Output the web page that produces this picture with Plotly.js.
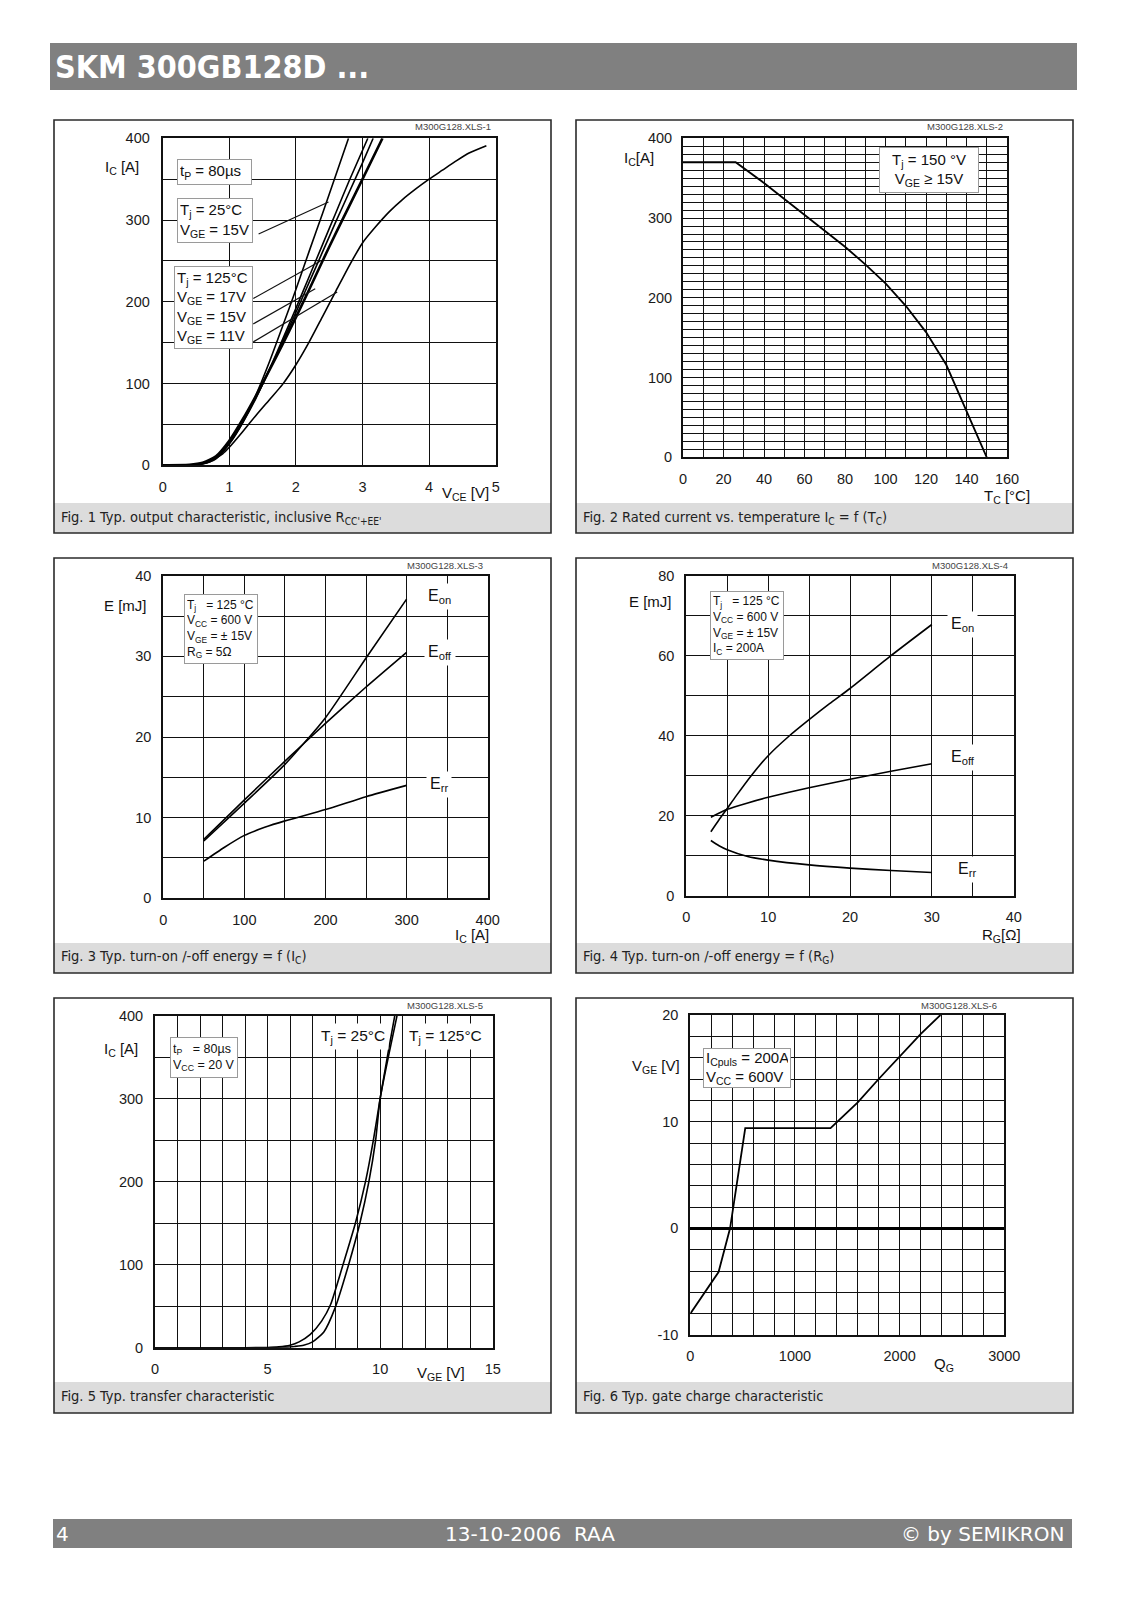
<!DOCTYPE html>
<html><head><meta charset="utf-8">
<script src="https://cdn.plot.ly/plotly-3.0.1.min.js"></script>
<style>html,body{margin:0;padding:0;background:#fff}#chart{width:1131px;height:1600px}</style>
</head><body><div id="chart"></div>
<script>
// ---------- DATA ----------
// Fig 1: output characteristic (V_CE [V] vs I_C [A])
const f1_vceA = [0, 0.4, 0.6, 0.8, 1.0, 1.2, 1.4, 1.6, 1.8, 2.0, 2.2, 2.4, 2.6, 2.79];
const f1_icA  = [0, 0.3, 2, 8, 26, 52, 86, 126, 170, 215, 262, 308, 355, 400];
const f1_vceB = [0, 0.4, 0.6, 0.8, 1.0, 1.2, 1.4, 1.6, 1.8, 2.0, 2.2, 2.4, 2.6, 2.8, 3.08];
const f1_icB  = [0, 0.3, 2, 9, 27, 52, 82, 117, 154, 192, 231, 270, 309, 348, 400];
const f1_vceC = [0, 0.4, 0.6, 0.8, 1.0, 1.2, 1.4, 1.6, 1.8, 2.0, 2.2, 2.4, 2.6, 2.8, 3.0, 3.16];
const f1_icC  = [0, 0.4, 2.5, 10, 28, 53, 83, 116, 151, 187, 224, 261, 298, 334, 370, 400];
const f1_vceD = [0, 0.4, 0.6, 0.8, 1.0, 1.2, 1.4, 1.6, 1.8, 2.0, 2.2, 2.4, 2.6, 2.8, 3.0, 3.3];
const f1_icD  = [0, 0.5, 3, 11, 30, 56, 85, 116, 148, 181, 215, 250, 284, 317, 350, 400];
const f1_vceE = [0, 0.5, 0.7, 0.9, 1.0, 1.2, 1.4, 1.6, 1.8, 2.0, 2.2, 2.4, 2.6, 2.8, 3.0, 3.2, 3.4, 3.6, 3.8, 4.0, 4.2, 4.4, 4.6, 4.86];
const f1_icE  = [0, 0.5, 4, 14, 22, 41, 61, 80, 99, 123, 151, 182, 213, 244, 272, 292, 310, 325, 338, 350, 361, 372, 382, 391];
// label leader lines (data coords)
const f1_leaderX0 = [1.44, 1.36, 1.36, 1.36];
const f1_leaderY0 = [283, 204, 173, 151];
const f1_leaderX1 = [2.49, 2.37, 2.29, 2.62];
const f1_leaderY1 = [322, 250, 216, 212];

// Fig 2: rated current vs case temperature
const f2_tc = [0, 26, 40, 50, 60, 70, 80, 90, 100, 110, 120, 130, 140, 150];
const f2_ic = [370, 370, 344, 324, 305, 285, 264, 242, 218, 190, 157, 116, 58, 0];

// Fig 3: switching energy vs I_C
const f3_ic   = [50, 100, 150, 200, 250, 300];
const f3_eon  = [7.1, 11.8, 16.6, 22.4, 29.8, 37.1];
const f3_eoff = [7.3, 12.2, 17.0, 21.7, 26.2, 30.5];
const f3_icRr = [50, 75, 100, 125, 150, 200, 250, 300];
const f3_err  = [4.6, 6.3, 7.8, 8.8, 9.6, 11.0, 12.6, 14.0];

// Fig 4: switching energy vs R_G
const f4_rgOn  = [3, 4, 5, 6, 8, 10, 12.5, 15, 17.5, 20, 25, 30];
const f4_eon   = [16, 19, 21.8, 24.7, 30.2, 35, 39.8, 44, 48, 51.8, 60, 67.8];
const f4_rgOff = [3, 5, 7.5, 10, 15, 20, 25, 30];
const f4_eoff  = [19.6, 21.6, 23.2, 24.6, 27, 29.1, 31.1, 33];
const f4_rgRr  = [3, 4, 5, 7.5, 10, 15, 20, 25, 30];
const f4_err   = [13.8, 12.5, 11.5, 9.8, 8.9, 7.7, 6.9, 6.3, 5.8];

// Fig 5: transfer characteristic
const f5_vge125 = [0, 4, 5, 5.5, 6.0, 6.4, 6.9, 7.4, 7.8, 8.35, 8.9, 9.35, 9.7, 10.0, 10.35, 10.65];
const f5_ic125  = [0, 0, 0.3, 1, 3, 7, 16, 32, 52, 100, 150, 200, 250, 300, 355, 400];
const f5_vge25  = [0, 5, 5.8, 6.2, 6.6, 7.0, 7.5, 8.0, 8.6, 9.1, 9.5, 9.8, 10.0, 10.4, 10.75];
const f5_ic25   = [0, 0, 0.5, 1.5, 3, 7, 19, 48, 100, 150, 200, 250, 300, 355, 400];

// Fig 6: gate charge
const f6_qg  = [0, 270, 380, 490, 525, 1340, 1600, 1800, 2000, 2200, 2390];
const f6_vge = [-8, -4.1, 0, 7, 9.4, 9.4, 11.8, 14, 16.1, 18.2, 20];

// tick labels
const f1_xLabels = [0, 1, 2, 3, 4, 5];
const f1_yLabels = [0, 100, 200, 300, 400];
const f2_xLabels = [0, 20, 40, 60, 80, 100, 120, 140, 160];
const f2_yLabels = [0, 100, 200, 300, 400];
const f3_xLabels = [0, 100, 200, 300, 400];
const f3_yLabels = [0, 10, 20, 30, 40];
const f4_xLabels = [0, 10, 20, 30, 40];
const f4_yLabels = [0, 20, 40, 60, 80];
const f5_xLabels = [0, 5, 10, 15];
const f5_yLabels = [0, 100, 200, 300, 400];
const f6_xLabels = [0, 1000, 2000, 3000];
const f6_yLabels = [-10, 0, 10, 20];

// ---------- LAYOUT HELPERS ----------
const W = 1131, H = 1600;
const px = x => x / W;
const py = y => 1 - y / H;
const TICKFONT = {family: 'Liberation Sans, Arial, sans-serif', size: 14.5, color: '#1a1a1a'};
const LBLFONT  = {family: 'Liberation Sans, Arial, sans-serif', size: 15, color: '#111'};
const CAPFONT  = {family: 'DejaVu Sans Condensed, DejaVu Sans, sans-serif', size: 14.5, color: '#222'};
const GRID = '#111';

function axis(dom, range, gridStep, labels, anchor, standoff, extra) {
  const minorVals = [];
  const n = Math.round((range[1] - range[0]) / gridStep);
  for (let k = 0; k <= n; k++) {
    const v = Math.round((range[0] + k * gridStep) * 1e6) / 1e6;
    if (labels.indexOf(v) < 0) minorVals.push(v);
  }
  return Object.assign({
    domain: dom, range: range, anchor: anchor,
    tickmode: 'array', tickvals: labels, ticktext: labels.map(String),
    showgrid: true, gridcolor: GRID, gridwidth: 1,
    minor: {tickmode: 'array', tickvals: minorVals, showgrid: true, gridcolor: GRID, gridwidth: 1, ticks: ''},
    showline: true, mirror: true, linecolor: '#111', linewidth: 2,
    zeroline: false, ticks: '', ticklabelstandoff: standoff,
    tickfont: TICKFONT, fixedrange: true
  }, extra || {});
}

const layout = {
  width: W, height: H, margin: {l: 0, r: 0, t: 0, b: 0},
  paper_bgcolor: '#fff', plot_bgcolor: '#fff', showlegend: false,
  xaxis:  axis([px(162.7), px(495.7)], [0, 5], 1, f1_xLabels, 'y', 7),
  yaxis:  axis([py(465.3), py(138.3)], [0, 400], 50, f1_yLabels, 'x', 8),
  xaxis2: axis([px(683), px(1007)], [0, 160], 10, f2_xLabels, 'y2', 7),
  yaxis2: axis([py(457.3), py(138.3)], [0, 400], 10, f2_yLabels, 'x2', 6),
  xaxis3: axis([px(163.3), px(487.7)], [0, 400], 50, f3_xLabels, 'y3', 7),
  yaxis3: axis([py(898.3), py(575.7)], [0, 40], 5, f3_yLabels, 'x3', 7),
  xaxis4: axis([px(686.3), px(1013.7)], [0, 40], 5, f4_xLabels, 'y4', 7),
  yaxis4: axis([py(895.7), py(575.7)], [0, 80], 10, f4_yLabels, 'x4', 7),
  xaxis5: axis([px(155), px(492.7)], [0, 15], 1, f5_xLabels, 'y5', 7),
  yaxis5: axis([py(1347.7), py(1015.7)], [0, 400], 50, f5_yLabels, 'x5', 7),
  xaxis6: axis([px(690.3), px(1004.3)], [0, 3000], 200, f6_xLabels, 'y6', 7),
  yaxis6: axis([py(1335), py(1015)], [-10, 20], 2, f6_yLabels, 'x6', 7,
               {zeroline: true, zerolinecolor: '#000', zerolinewidth: 3.5}),
  shapes: [], annotations: []
};

// page furniture
const S = layout.shapes, A = layout.annotations;
function rectPx(x0, y0, x1, y1, fill, line, lw) {
  S.push({type: 'rect', xref: 'paper', yref: 'paper', x0: px(x0), x1: px(x1), y0: py(y1), y1: py(y0),
          fillcolor: fill, line: {color: line || fill, width: lw == null ? 0 : lw}, layer: 'below'});
}
function txt(text, x, y, font, xanchor, extra) {
  A.push(Object.assign({text: text, xref: 'paper', yref: 'paper', x: px(x), y: py(y),
    xanchor: xanchor || 'left', yanchor: 'middle', showarrow: false, font: font}, extra || {}));
}
function box(text, x0, y0, x1, y1, size, align) {
  A.push({text: text, xref: 'paper', yref: 'paper', x: px(x0), y: py(y0), xanchor: 'left', yanchor: 'top',
    width: x1 - x0 - 6, height: y1 - y0 - 6, align: align || 'left', valign: 'middle',
    showarrow: false, bgcolor: '#fff', bordercolor: '#9a9a9a', borderwidth: 1, borderpad: 2,
    font: {family: 'Liberation Sans, Arial, sans-serif', size: size, color: '#111'}});
}
function label(text, x, y, size, xanchor) {
  A.push({text: text, xref: 'paper', yref: 'paper', x: px(x), y: py(y), xanchor: xanchor || 'left', yanchor: 'middle',
    showarrow: false, bgcolor: '#fff', borderpad: 3,
    font: {family: 'Liberation Sans, Arial, sans-serif', size: size, color: '#111'}});
}

// header and footer bars
rectPx(50, 43, 1077, 90, '#808080');
txt('<b>SKM 300GB128D ...</b>', 53, 67, {family: 'DejaVu Sans Condensed, DejaVu Sans, sans-serif', size: 32, color: '#fff'});
rectPx(53, 1519, 1072, 1548, '#808080');
const FOOT = {family: 'DejaVu Sans, sans-serif', size: 20, color: '#fff'};
txt('4', 54, 1534, FOOT, 'left');
txt('13-10-2006\u00a0\u00a0RAA', 530, 1534, FOOT, 'center');
txt('© by SEMIKRON', 1066, 1534, FOOT, 'right');

// panel frames and caption bands
const panels = [
  [54, 120, 551, 533, 503], [576, 120, 1073, 533, 503],
  [54, 558, 551, 973, 943], [576, 558, 1073, 973, 943],
  [54, 998, 551, 1413, 1382], [576, 998, 1073, 1413, 1382]
];
panels.forEach(p => {
  rectPx(p[0], p[4], p[2], p[3], '#dcdcdc');
  rectPx(p[0], p[1], p[2], p[3], 'rgba(0,0,0,0)', '#2b2b2b', 1.6);
});
txt("Fig. 1 Typ. output characteristic, inclusive R<sub>CC'+EE'</sub>", 59, 518, CAPFONT);
txt('Fig. 2 Rated current vs. temperature I<sub>C</sub> = f (T<sub>C</sub>)', 581, 518, CAPFONT);
txt('Fig. 3 Typ. turn-on /-off energy = f (I<sub>C</sub>)', 59, 957, CAPFONT);
txt('Fig. 4 Typ. turn-on /-off energy = f (R<sub>G</sub>)', 581, 957, CAPFONT);
txt('Fig. 5 Typ. transfer characteristic', 59, 1396, CAPFONT);
txt('Fig. 6 Typ. gate charge characteristic', 581, 1396, CAPFONT);

const SMALL = {family: 'Liberation Sans, Arial, sans-serif', size: 9.5, color: '#444'};
txt('M300G128.XLS-1', 493, 127, SMALL, 'right');
txt('M300G128.XLS-2', 1005, 127, SMALL, 'right');
txt('M300G128.XLS-3', 485, 565, SMALL, 'right');
txt('M300G128.XLS-4', 1010, 565, SMALL, 'right');
txt('M300G128.XLS-5', 485, 1005, SMALL, 'right');
txt('M300G128.XLS-6', 999, 1005, SMALL, 'right');

// axis titles
txt('I<sub>C</sub> [A]', 103, 168, LBLFONT);
txt('V<sub>CE</sub> [V]', 440, 493, LBLFONT);
txt('I<sub>C</sub>[A]', 622, 158, LBLFONT);
txt('T<sub>C</sub> [°C]', 982, 496, LBLFONT);
txt('E [mJ]', 102, 605, LBLFONT);
txt('I<sub>C</sub> [A]', 453, 935, LBLFONT);
txt('E [mJ]', 627, 601, LBLFONT);
txt('R<sub>G</sub>[Ω]', 980, 935, LBLFONT);
txt('I<sub>C</sub> [A]', 102, 1049, LBLFONT);
txt('V<sub>GE</sub> [V]', 415, 1373, LBLFONT);
txt('V<sub>GE</sub> [V]', 630, 1066, LBLFONT);
txt('Q<sub>G</sub>', 932, 1364, LBLFONT);

// legend boxes
const NB = '\u00a0';
box('t<sub>P</sub> = 80µs', 177, 159, 252, 185, 15);
box('T<sub>j</sub> = 25°C<br>V<sub>GE</sub> = 15V', 177, 198, 253, 243, 15);
box('T<sub>j</sub> = 125°C<br>V<sub>GE</sub> = 17V<br>V<sub>GE</sub> = 15V<br>V<sub>GE</sub> = 11V', 174, 266, 253, 349, 15);
box('T<sub>j</sub> = 150 °V<br>V<sub>GE</sub> ≥ 15V', 879, 147, 979, 193, 15, 'center');
box('T<sub>j</sub>' + NB+NB+NB + '= 125 °C<br>V<sub>CC</sub> = 600 V<br>V<sub>GE</sub> = ± 15V<br>R<sub>G</sub> = 5Ω', 184, 594, 258, 664, 12);
box('T<sub>j</sub>' + NB+NB+NB + '= 125 °C<br>V<sub>CC</sub> = 600 V<br>V<sub>GE</sub> = ± 15V<br>I<sub>C</sub> = 200A', 710, 591, 784, 660, 12);
box('t<sub>P</sub>' + NB+NB+NB + '= 80µs<br>V<sub>CC</sub> = 20 V', 170, 1037, 238, 1078, 12.5);
box('I<sub>Cpuls</sub> = 200A<br>V<sub>CC</sub> = 600V', 703, 1048, 791, 1088, 15);

// curve labels
label('E<sub>on</sub>', 424, 596, 16);
label('E<sub>off</sub>', 424, 652, 16);
label('E<sub>rr</sub>', 426, 784, 16);
label('E<sub>on</sub>', 947, 624, 16);
label('E<sub>off</sub>', 947, 757, 16);
label('E<sub>rr</sub>', 954, 869, 16);
label('T<sub>j</sub> = 25°C', 317, 1036, 15.5);
label('T<sub>j</sub> = 125°C', 405, 1036, 15.5);

// leader lines in Fig. 1
for (let i = 0; i < f1_leaderX0.length; i++) {
  S.push({type: 'line', xref: 'x', yref: 'y', x0: f1_leaderX0[i], y0: f1_leaderY0[i],
          x1: f1_leaderX1[i], y1: f1_leaderY1[i], line: {color: '#111', width: 1.2}, layer: 'above'});
}

// ---------- TRACES ----------
function line(x, y, xa, ya, w, shape) {
  return {x: x, y: y, xaxis: xa, yaxis: ya, type: 'scatter', mode: 'lines', hoverinfo: 'skip',
          line: {color: '#000', width: w || 1.6, shape: shape || 'spline', smoothing: 0.6}};
}
const data = [
  line(f1_vceA, f1_icA, 'x', 'y'),
  line(f1_vceB, f1_icB, 'x', 'y'),
  line(f1_vceC, f1_icC, 'x', 'y'),
  line(f1_vceD, f1_icD, 'x', 'y', 2.6),
  line(f1_vceE, f1_icE, 'x', 'y'),
  line(f2_tc, f2_ic, 'x2', 'y2', 1.8, 'linear'),
  line(f3_ic, f3_eon, 'x3', 'y3'),
  line(f3_ic, f3_eoff, 'x3', 'y3'),
  line(f3_icRr, f3_err, 'x3', 'y3'),
  line(f4_rgOn, f4_eon, 'x4', 'y4'),
  line(f4_rgOff, f4_eoff, 'x4', 'y4'),
  line(f4_rgRr, f4_err, 'x4', 'y4'),
  line(f5_vge125, f5_ic125, 'x5', 'y5'),
  line(f5_vge25, f5_ic25, 'x5', 'y5'),
  line(f6_qg, f6_vge, 'x6', 'y6', 1.8, 'linear')
];

Plotly.newPlot('chart', data, layout, {staticPlot: true});
</script></body></html>
